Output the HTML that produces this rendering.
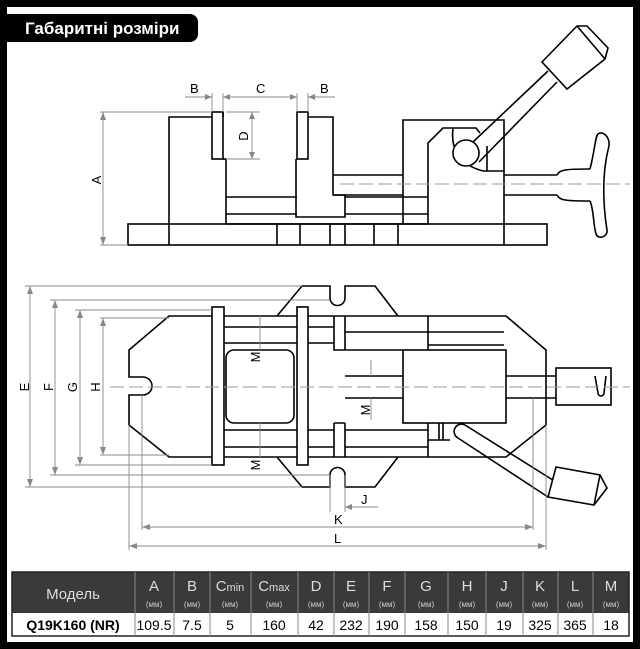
<!DOCTYPE html>
<html><head><meta charset="utf-8"><style>
html,body{margin:0;padding:0;background:#fff}
svg{display:block}
text{font-family:"Liberation Sans",sans-serif}
</style></head><body>
<svg width="640" height="649" viewBox="0 0 640 649" xmlns="http://www.w3.org/2000/svg">
<rect x="0" y="0" width="640" height="649" fill="#000"/>
<rect x="7" y="7" width="626" height="635" fill="#fff"/>
<path d="M0 14 H190 a8 8 0 0 1 8 8 V34 a8 8 0 0 1 -8 8 H0 Z" fill="#000"/>
<text x="25" y="34" fill="#fff" font-size="17" font-weight="bold">Габаритні розміри</text>

<g fill="none" stroke="#000" stroke-width="1.6">
<!-- side view -->
<rect x="128" y="224" width="419" height="21"/>
<path d="M169 245 V117 H212 M223 117 V112 M226 159 V224"/>
<rect x="212" y="112" width="11" height="47"/>
<path d="M223 159 H226"/>
<path d="M226 197 H297 M226 214 H297 M226 224 H428"/>
<rect x="297" y="112" width="11" height="47"/>
<path d="M308 117 H333 V195 H345 V217 H296 V159"/>
<path d="M345 197 H428 M345 214 H428 M333 175 H403 M333 195 H403"/>
<path d="M277 224 V245 M300 224 V245 M330 224 V245 M345 224 V245 M374 224 V245 M398 224 V245"/>
<path d="M403 224 V120 H504 V245"/>
<path d="M428 224 V143 L443 128 H476 L480 133 M453 128 Q449 162 483 171 H504 M487 146 V171"/>
<circle cx="466" cy="153" r="13" fill="#fff"/>
<path d="M473 142 L548 71 M479 162 L557 82"/>
<polygon points="542,62 577,26 587,26 608,48 605,59 567,89" fill="#fff"/>
<path d="M577 26 L605 59"/>
<path d="M504 175 H557 M504 195 H557"/>
<path d="M557 175 C560 170 563 169 590 169 M557 195 C560 200 563 201 590 201"/>
<path d="M590 169 C595 150 595 137 598 134 C603 130 612 138 608 150 C602 175 603 205 607 230 C608 237 598 240 596 234 C593 224 594 210 590 201"/>
<!-- plan view -->
<path d="M169 316 H506 L546 350 V425 L506 457 H169 L129 425 V395 H143 A9 9 0 0 0 143 377 H129 V350 Z"/>
<path d="M277 316 L302 286 H330 V298 A7.5 7.5 0 0 0 345 298 V286 H375 L398 316"/>
<path d="M277 457 L302 487 H330 V475 A7.5 7.5 0 0 1 345 475 V487 H375 L398 457"/>
<rect x="212" y="307" width="12" height="158" fill="#fff"/>
<rect x="297" y="307" width="11" height="158" fill="#fff"/>
<rect x="226" y="350" width="68" height="73" rx="8"/>
<path d="M224 327 H297 M224 343 H297 M224 430 H297 M224 447 H297"/>
<path d="M308 327 H334 M308 343 H334 M308 430 H334 M308 447 H334"/>
<path d="M334 316 V350 H345 M334 423 V457 M334 423 H345"/>
<path d="M345 332 H504 M345 350 H403 M345 376 H403 M345 398 H403 M345 316 V350 M345 423 V457 M345 430 H428 M345 447 H428"/>
<path d="M428 316 V350 M428 423 V457 M428 332 V350 M428 345 H504"/>
<rect x="403" y="350" width="103" height="73"/>
<path d="M428 440 H450 M439 423 V440 M443 423 V440"/>
<path d="M506 376 H556 M506 398 H556"/>
<rect x="556" y="368" width="55" height="37"/>
<path d="M595 376 L598 393 A3 3 0 0 0 604 393 L606 376"/>
<path d="M465 425 L556 482 M458 438 L548 497"/>
<path d="M465 425 A7 7 0 0 0 458 438"/>
<polygon points="556,467 600,475 607,488 594,505 548,497" fill="#fff"/>
<path d="M600 475 L594 505"/>
</g>

<g stroke="#999" stroke-width="1" stroke-dasharray="14,5" fill="none">
<path d="M340 184 H630"/>
<path d="M110 387 H630"/>
</g>

<g stroke="#888" stroke-width="0.9" fill="none">
<path d="M100 112 H212 M100 245 H128 M103 112 V245"/>
<path d="M212 93 V112 M223 93 V112 M297 93 V112 M308 93 V112 M185 97 H212 M223 97 H297 M308 97 H335"/>
<path d="M226 112 H260 M226 159 H260 M252 112 V159"/>
<path d="M25 286 H302 M25 487 H302 M50 300 H330 M50 475 H330 M75 310 H212 M75 465 H212 M100 318 H169 M100 455 H169"/>
<path d="M30 286 V487 M55 300 V475 M80 310 V465 M103 318 V455"/>
<path d="M260 316 V350 M260 423 V457"/>
<path d="M371 360 V376 M371 398 V420"/>
<path d="M330 475 V512 M345 475 V512 M345 507 H378"/>
<path d="M142 395 V530 M533 398 V530 M129 425 V550 M546 425 V550"/>
<path d="M142 527 H533 M129 546 H546"/>
</g>
<g fill="#888">
<path d="M103 112 l-3 8 h6z M103 245 l-3 -8 h6z"/>
<path d="M212 97 l-7 -3 v6z M223 97 l7 -3 v6z M297 97 l-7 -3 v6z M308 97 l7 -3 v6z"/>
<path d="M252 112 l-3 7 h6z M252 159 l-3 -7 h6z"/>
<path d="M30 286 l-3 8 h6z M30 487 l-3 -8 h6z M55 300 l-3 8 h6z M55 475 l-3 -8 h6z M80 310 l-3 8 h6z M80 465 l-3 -8 h6z M103 318 l-3 8 h6z M103 455 l-3 -8 h6z"/>
<path d="M345 507 l7 -3 v6z"/>
<path d="M142 527 l8 -3 v6z M533 527 l-8 -3 v6z M129 546 l8 -3 v6z M546 546 l-8 -3 v6z"/>
</g>
<g font-size="13" fill="#000">
<text x="190" y="93">B</text><text x="256" y="93">C</text><text x="320" y="93">B</text>
<text transform="translate(248,136) rotate(-90)" text-anchor="middle">D</text>
<text transform="translate(101,180) rotate(-90)" text-anchor="middle">A</text>
<text transform="translate(29,387) rotate(-90)" text-anchor="middle">E</text>
<text transform="translate(53,387) rotate(-90)" text-anchor="middle">F</text>
<text transform="translate(77,387) rotate(-90)" text-anchor="middle">G</text>
<text transform="translate(100,387) rotate(-90)" text-anchor="middle">H</text>
<text transform="translate(260,357) rotate(-90)" text-anchor="middle">M</text>
<text transform="translate(370,410) rotate(-90)" text-anchor="middle">M</text>
<text transform="translate(260,465) rotate(-90)" text-anchor="middle">M</text>
<text x="361" y="504">J</text><text x="334" y="524">K</text><text x="334" y="543">L</text>
</g>

<rect x="12" y="572" width="617" height="41" fill="#3a3a3a"/>
<rect x="12" y="572" width="617" height="64" fill="none" stroke="#222" stroke-width="1.5"/>
<g stroke="#888" stroke-width="1">
<path d="M135 572V636M174 572V636M210 572V636M251 572V636M298 572V636M334 572V636M369 572V636M405 572V636M448 572V636M486 572V636M523 572V636M558 572V636M593 572V636"/>
</g>
<g fill="#ddd" font-size="15" text-anchor="middle">
<text x="73" y="599">Модель</text>
<text x="154" y="591">A</text><text x="192" y="591">B</text>
<text x="230" y="591">C<tspan font-size="11">min</tspan></text>
<text x="274" y="591">C<tspan font-size="11">max</tspan></text>
<text x="316" y="591">D</text><text x="351" y="591">E</text><text x="387" y="591">F</text><text x="426" y="591">G</text><text x="467" y="591">H</text><text x="504" y="591">J</text><text x="540" y="591">K</text><text x="575" y="591">L</text><text x="611" y="591">M</text>
</g>
<g fill="#ccc" font-size="8" text-anchor="middle">
<text x="154" y="607">(мм)</text><text x="192" y="607">(мм)</text><text x="230" y="607">(мм)</text><text x="274" y="607">(мм)</text><text x="316" y="607">(мм)</text><text x="351" y="607">(мм)</text><text x="387" y="607">(мм)</text><text x="426" y="607">(мм)</text><text x="467" y="607">(мм)</text><text x="504" y="607">(мм)</text><text x="540" y="607">(мм)</text><text x="575" y="607">(мм)</text><text x="611" y="607">(мм)</text>
</g>
<g fill="#000" font-size="14" text-anchor="middle">
<text x="73" y="630" font-weight="bold">Q19K160 (NR)</text>
<text x="154" y="630">109.5</text><text x="192" y="630">7.5</text><text x="230" y="630">5</text><text x="274" y="630">160</text><text x="316" y="630">42</text><text x="351" y="630">232</text><text x="387" y="630">190</text><text x="426" y="630">158</text><text x="467" y="630">150</text><text x="504" y="630">19</text><text x="540" y="630">325</text><text x="575" y="630">365</text><text x="611" y="630">18</text>
</g>
</svg>
</body></html>
